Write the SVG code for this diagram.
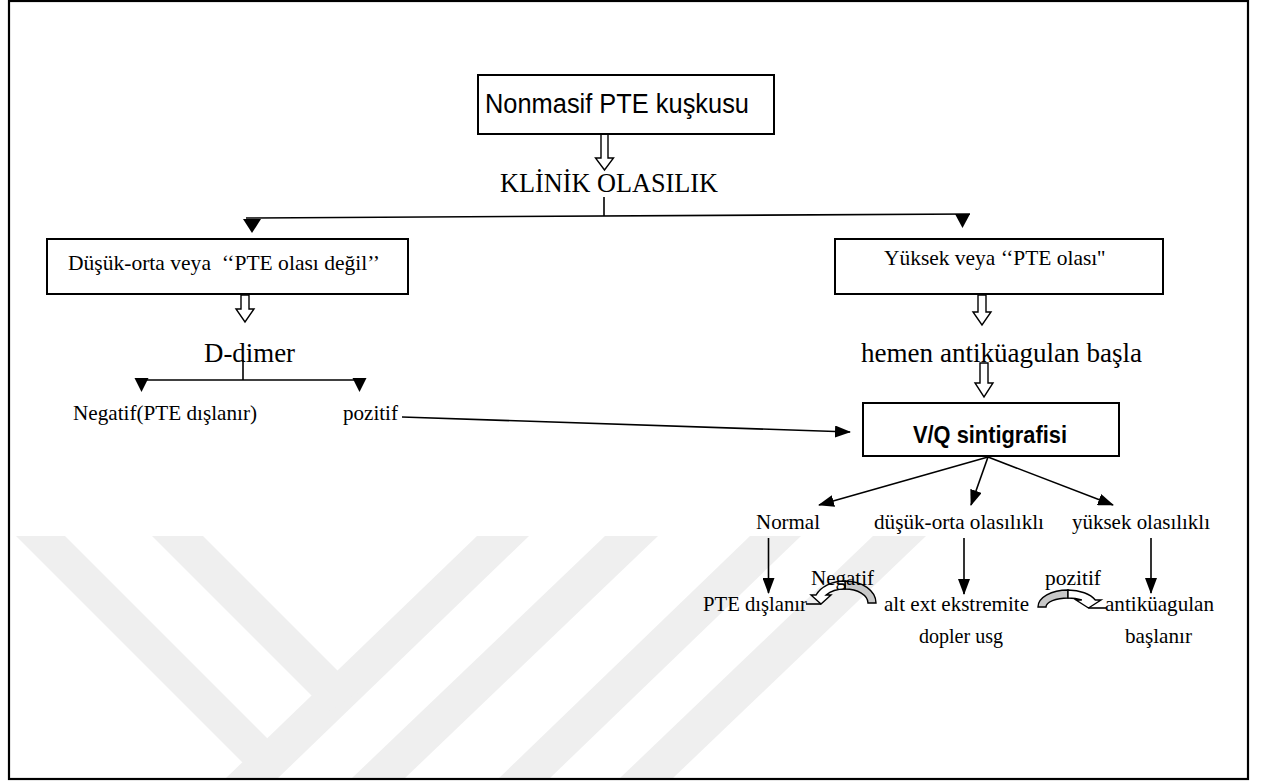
<svg xmlns="http://www.w3.org/2000/svg" width="1267" height="782" viewBox="0 0 1267 782">
  <style>
    .serif { font-family: "Liberation Serif", "Times New Roman", serif; fill: #000; white-space: pre; }
    .sans { font-family: "Liberation Sans", Arial, sans-serif; fill: #000; white-space: pre; }
    .box { fill: #fff; stroke: #000; stroke-width: 2; }
    .line { fill: none; stroke: #000; stroke-width: 1.6; }
    .head { fill: #000; stroke: none; }
    .hollow { fill: #fff; stroke: #000; stroke-width: 1.4; stroke-linejoin: miter; }
    .arc-light { fill: #fff; stroke: #000; stroke-width: 1.4; }
    .arc-dark { fill: #c8c8c8; stroke: #000; stroke-width: 1.4; }
    .band { fill: #efefef; }
  </style>
  <defs>
    <marker id="tri" viewBox="0 0 16 12" refX="15" refY="6" markerWidth="16" markerHeight="12" orient="auto" markerUnits="userSpaceOnUse">
      <path d="M0,0 L16,6 L0,12 Z" fill="#000"/>
    </marker>
  </defs>

  <rect x="0" y="0" width="1267" height="782" fill="#fff"/>

  <!-- faint background logo bands -->
  <g id="watermark">
    <polygon class="band" points="477,536 529,536 277,779 225,779"/>
    <polygon class="band" points="152,536 203,536 359,692 328,712"/>
    <polygon class="band" points="16,536 65,536 279,750 255,775"/>
    <polygon class="band" points="605,536 658,536 404,779 351,779"/>
    <polygon class="band" points="750,536 801,536 549,779 498,779"/>
    <polygon class="band" points="873,536 926,536 672,779 619,779"/>
  </g>

  <!-- page frame -->
  <rect x="9" y="1" width="1239" height="778" fill="none" stroke="#000" stroke-width="2.2"/>

  <g id="connectors">
    <!-- top hollow arrow -->
    <path class="hollow" d="M601,134 V158 H595.5 L604.5,170 L613.5,158 H608 V134 Z"/>
    <!-- split from clinical probability -->
    <line class="line" x1="604" y1="197" x2="604" y2="216"/>
    <line class="line" x1="246" y1="218" x2="970" y2="214"/>
    <polygon class="head" points="243,219 261,219 252,233"/>
    <polygon class="head" points="955,214 970,214 962.5,228"/>
    <!-- left branch -->
    <path class="hollow" d="M241,295 V309 H236 L245,322 L254,309 H249 V295 Z"/>
    <line class="line" x1="243" y1="360" x2="243" y2="380"/>
    <line class="line" x1="138" y1="380" x2="362" y2="380"/>
    <polygon class="head" points="134.5,378 148.5,378 141.5,392"/>
    <polygon class="head" points="352.5,378 366.5,378 359.5,392"/>
    <line class="line" x1="402" y1="417" x2="850" y2="432" marker-end="url(#tri)"/>
    <!-- right branch -->
    <path class="hollow" d="M978,295 V312 H973 L982,325 L991,312 H986 V295 Z"/>
    <path class="hollow" d="M980,363 V383 H975 L984,397 L993,383 H988 V363 Z"/>
    <!-- scintigraphy outcomes -->
    <line class="line" x1="988" y1="457" x2="819" y2="505" marker-end="url(#tri)"/>
    <line class="line" x1="988" y1="457" x2="971" y2="505" marker-end="url(#tri)"/>
    <line class="line" x1="988" y1="457" x2="1113" y2="505" marker-end="url(#tri)"/>
    <line class="line" x1="768.5" y1="538" x2="768.5" y2="593" marker-end="url(#tri)"/>
    <line class="line" x1="964" y1="538" x2="964" y2="594" marker-end="url(#tri)"/>
    <line class="line" x1="1151" y1="538" x2="1151" y2="593" marker-end="url(#tri)"/>
    <!-- curved arrow: Negatif -->
    <path class="arc-dark" d="M845,581 A31,22 0 0 1 876,603 L868,603 A23,14 0 0 0 845,589 Z"/>
    <path class="arc-light" d="M845,581 A31,22 0 0 0 816.1,595 L811,595 L821,604 L831,595 L826.1,595 A23,14 0 0 1 845,589 Z"/>
    <line class="line" x1="806" y1="604" x2="821" y2="604" stroke-width="1.2"/>
    <!-- curved arrow: pozitif -->
    <path class="arc-dark" d="M1068,590 A30,17 0 0 0 1038,607 L1046,607 A22,9 0 0 1 1068,598 Z"/>
    <path class="arc-light" d="M1068,590 A30,17 0 0 1 1095.3,600 L1101,600 L1088.5,608 L1076,600 L1081.8,600 A22,9 0 0 0 1068,598 Z"/>
    <line class="line" x1="1088.5" y1="608" x2="1106" y2="608" stroke-width="1.2"/>
  </g>

  <g id="node-suspicion">
    <rect class="box" x="478" y="75" width="296" height="59"/>
    <text class="sans" x="485" y="113" font-size="27" textLength="264" lengthAdjust="spacingAndGlyphs">Nonmasif PTE kuşkusu</text>
  </g>

  <g id="node-clinical">
    <text class="serif" x="500" y="192" font-size="27" textLength="218" lengthAdjust="spacingAndGlyphs">KLİNİK OLASILIK</text>
  </g>

  <g id="node-low">
    <rect class="box" x="47" y="239" width="361" height="55" stroke-width="1.8"/>
    <text class="serif" x="68" y="270" font-size="21" textLength="312" lengthAdjust="spacingAndGlyphs">Düşük-orta veya  ‘‘PTE olası değil’’</text>
  </g>

  <g id="node-high">
    <rect class="box" x="835" y="239" width="328" height="55" stroke-width="1.8"/>
    <text class="serif" x="884" y="265" font-size="21" textLength="221" lengthAdjust="spacingAndGlyphs">Yüksek veya ‘‘PTE olası''</text>
  </g>

  <g id="node-ddimer">
    <text class="serif" x="204" y="362" font-size="27" textLength="91" lengthAdjust="spacingAndGlyphs">D-dimer</text>
  </g>

  <g id="node-ddimer-neg">
    <text class="serif" x="73" y="420" font-size="21" textLength="184" lengthAdjust="spacingAndGlyphs">Negatif(PTE dışlanır)</text>
  </g>

  <g id="node-ddimer-pos">
    <text class="serif" x="343" y="420" font-size="21" textLength="55" lengthAdjust="spacingAndGlyphs">pozitif</text>
  </g>

  <g id="node-anticoag-start">
    <text class="serif" x="861" y="362" font-size="27" textLength="281" lengthAdjust="spacingAndGlyphs">hemen antiküagulan başla</text>
  </g>

  <g id="node-vq">
    <rect class="box" x="863" y="403" width="256" height="53" stroke-width="1.8"/>
    <text class="sans" x="913" y="443" font-size="23" font-weight="bold" textLength="154" lengthAdjust="spacingAndGlyphs">V/Q sintigrafisi</text>
  </g>

  <g id="node-normal">
    <text class="serif" x="756" y="529" font-size="21" textLength="64" lengthAdjust="spacingAndGlyphs">Normal</text>
  </g>

  <g id="node-lowmid">
    <text class="serif" x="874" y="529" font-size="21" textLength="170" lengthAdjust="spacingAndGlyphs">düşük-orta olasılıklı</text>
  </g>

  <g id="node-highprob">
    <text class="serif" x="1072" y="529" font-size="21" textLength="138" lengthAdjust="spacingAndGlyphs">yüksek olasılıklı</text>
  </g>

  <g id="node-excluded">
    <text class="serif" x="703" y="611" font-size="21" textLength="104" lengthAdjust="spacingAndGlyphs">PTE dışlanır</text>
  </g>

  <g id="node-doppler">
    <text class="serif" x="884" y="611" font-size="21" textLength="145" lengthAdjust="spacingAndGlyphs">alt ext ekstremite</text>
    <text class="serif" x="919" y="643" font-size="21" textLength="84" lengthAdjust="spacingAndGlyphs">dopler usg</text>
  </g>

  <g id="node-anticoag">
    <text class="serif" x="1105" y="611" font-size="21" textLength="109" lengthAdjust="spacingAndGlyphs">antiküagulan</text>
    <text class="serif" x="1125" y="643" font-size="21" textLength="67" lengthAdjust="spacingAndGlyphs">başlanır</text>
  </g>

  <g id="label-negatif">
    <text class="serif" x="811" y="585" font-size="21" textLength="63" lengthAdjust="spacingAndGlyphs">Negatif</text>
  </g>

  <g id="label-pozitif">
    <text class="serif" x="1045" y="585" font-size="21" textLength="56" lengthAdjust="spacingAndGlyphs">pozitif</text>
  </g>
</svg>
